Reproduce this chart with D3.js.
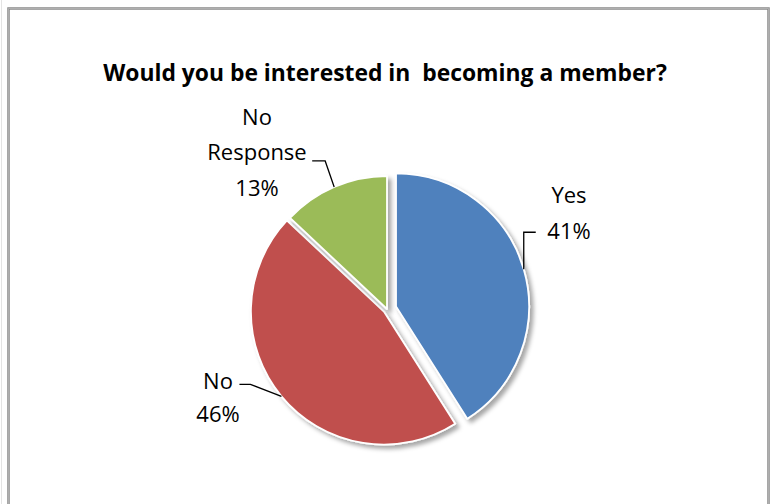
<!DOCTYPE html>
<html>
<head>
<meta charset="utf-8">
<script src="https://cdn.jsdelivr.net/npm/d3@7"></script>
<style>
  html, body { margin: 0; padding: 0; background: #fff; }
  svg { display: block; }
  text { font-family: "Open Sans", "Noto Sans", sans-serif; fill: #000; }
</style>
</head>
<body>
<svg id="chart" width="775" height="504"></svg>
<script>
// Survey answers
const categories = ["Yes", "No", "No Response"];
const percents = [41, 46, 13];
const labelLines = [["Yes", "41%"], ["No", "46%"], ["No", "Response", "13%"]];
const title = "Would you be interested in\u00a0 becoming a member?";

const colors = ["#4F81BD", "#C0504D", "#9BBB59"];

const W = 775, H = 504;
const cx = 387, cy = 309, radius = 133;
// how far each slice is pulled out from the centre
const explode = [9.4, 4, 0];

// leader line geometry per slice: elbow offset from the arc point, then horizontal run
const leader = [
  { elbow: [0, -37], run: 12, textX: 569, baselines: [203, 239] },
  { elbow: [-31, -12], run: -11, textX: 218, baselines: [389, 422] },
  { elbow: [-9, -26], run: -13, textX: 257, baselines: [125, 160, 196] }
];

const svg = d3.select("#chart");

// drop shadow under the slices
const defs = svg.append("defs");
const f = defs.append("filter").attr("id", "shadow")
  .attr("x", "-20%").attr("y", "-20%").attr("width", "140%").attr("height", "140%");
f.append("feDropShadow").attr("dx", 3.5).attr("dy", 3.5).attr("stdDeviation", 2.2)
  .attr("flood-color", "#000").attr("flood-opacity", 0.35);

// chart frame
svg.append("line").attr("x1", 1.5).attr("x2", 1.5).attr("y1", 0).attr("y2", H)
  .attr("stroke", "#e4e4e4").attr("stroke-width", 1);
svg.append("path")
  .attr("d", `M8.5,${H + 5} V8.5 H768.5 V${H + 5}`)
  .attr("fill", "none").attr("stroke", "#8a8a8a").attr("stroke-width", 2.5);
svg.append("path")
  .attr("d", `M8.5,${H + 5} V8.5 H768.5 V${H + 5}`)
  .attr("fill", "none").attr("stroke", "#b8b8b8").attr("stroke-width", 0.8);

// title, sized to span its line
const t = svg.append("text")
  .attr("x", 385).attr("y", 81)
  .attr("text-anchor", "middle")
  .attr("font-weight", "bold")
  .attr("font-size", 20)
  .style("white-space", "pre")
  .text(title);
const tw = t.node().getComputedTextLength();
t.attr("font-size", Math.min(24, 20 * 564 / tw));

const data = categories.map((c, i) => ({ name: c, value: percents[i], i }));
const pie = d3.pie().value(d => d.value).sort(null).startAngle(0).endAngle(2 * Math.PI);
const arcs = pie(data);
const arc = d3.arc().innerRadius(0).outerRadius(radius);

const offset = d => {
  const mid = (d.startAngle + d.endAngle) / 2;
  const e = explode[d.data.i];
  return [Math.sin(mid) * e, -Math.cos(mid) * e];
};

const g = svg.append("g").attr("transform", `translate(${cx},${cy})`);
g.selectAll("path.slice")
  .data(arcs)
  .join("path")
  .attr("class", "slice")
  .attr("transform", d => `translate(${offset(d)})`)
  .attr("d", arc)
  .attr("fill", d => colors[d.data.i])
  .attr("stroke", "#fff")
  .attr("stroke-width", 1.8)
  .attr("stroke-linejoin", "round")
  .attr("filter", "url(#shadow)");

// labels with leader lines
arcs.forEach(d => {
  const L = leader[d.data.i];
  const [ox, oy] = offset(d);
  const mid = (d.startAngle + d.endAngle) / 2;
  const ax = cx + ox + Math.sin(mid) * radius;
  const ay = cy + oy - Math.cos(mid) * radius;
  const ex = ax + L.elbow[0], ey = ay + L.elbow[1];
  svg.append("path")
    .attr("d", `M${ax},${ay} L${ex},${ey} L${ex + L.run},${ey}`)
    .attr("fill", "none").attr("stroke", "#000").attr("stroke-width", 1.3);
  labelLines[d.data.i].forEach((line, k) => {
    svg.append("text")
      .attr("x", L.textX).attr("y", L.baselines[k])
      .attr("text-anchor", "middle")
      .attr("font-size", 22)
      .text(line);
  });
});
</script>
</body>
</html>
